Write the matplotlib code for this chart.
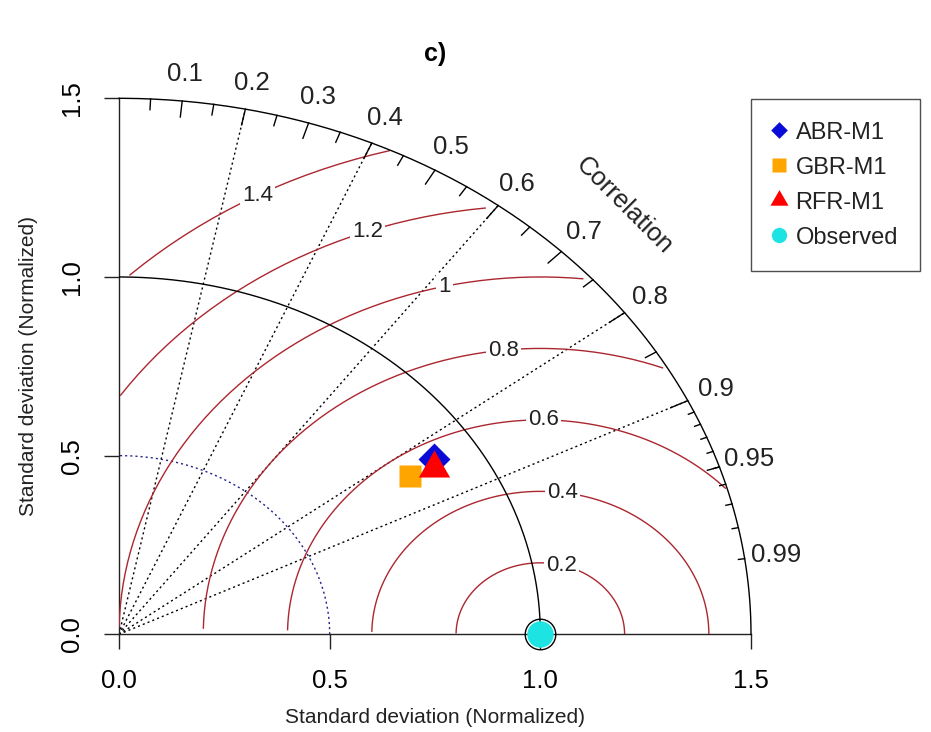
import numpy as np
import matplotlib
matplotlib.use("Agg")
import matplotlib.pyplot as plt
from matplotlib.lines import Line2D
from matplotlib.markers import MarkerStyle

plt.rcParams['font.family'] = ['Liberation Sans', 'DejaVu Sans']

# ---- data -------------------------------------------------------------
models = ["ABR-M1", "GBR-M1", "RFR-M1"]
model_sd = [0.894, 0.820, 0.880]
model_cor = [0.836, 0.841, 0.849]
model_colors = ["#0b0bd8", "#ffa500", "#ff0000"]

ref_sd = 1.0
ref_label = "Observed"
ref_color = "#1ee3e3"

maxray = 1.5
sd_ticks = [0.0, 0.5, 1.0, 1.5]
sd_ticklabels = ["0.0", "0.5", "1.0", "1.5"]
gamma_levels = [0.2, 0.4, 0.6, 0.8, 1.0, 1.2, 1.4]
gamma_labels = ["0.2", "0.4", "0.6", "0.8", "1", "1.2", "1.4"]
corr_lines = [0.2, 0.4, 0.6, 0.8, 0.9]
corr_labels = [0.1, 0.2, 0.3, 0.4, 0.5, 0.6, 0.7, 0.8, 0.9, 0.95, 0.99]
sd_dotted_arc = 0.5

# ---- markers in the style of R's pch symbols (centred on the value) ----
tri_verts = [(0.0, 1.555), (1.347, -0.778), (-1.347, -0.778), (0.0, 1.555)]
diamond = MarkerStyle([(0, 1), (1, 0), (0, -1), (-1, 0), (0, 1)])
square = MarkerStyle([(-1, -1), (1, -1), (1, 1), (-1, 1), (-1, -1)])
triangle = MarkerStyle(tri_verts)
model_markers = [diamond, square, triangle]
model_msize = [23, 16, 26]

fig = plt.figure(figsize=(9.31, 7.32), dpi=100)
W, H = 931.0, 732.0
x0, x1, y0, y1 = 119.0, 751.0, 634.3, 98.3
ax = fig.add_axes([x0 / W, 1 - y0 / H, (x1 - x0) / W, (y0 - y1) / H])
ax.set_xlim(0, maxray)
ax.set_ylim(0, maxray)
for s in ["top", "right"]:
    ax.spines[s].set_visible(False)
for s in ["left", "bottom"]:
    ax.spines[s].set_linewidth(1.0)
    ax.spines[s].set_color("#222222")

ax.set_xticks(sd_ticks)
ax.set_xticklabels(sd_ticklabels)
ax.set_yticks(sd_ticks)
ax.set_yticklabels(sd_ticklabels, rotation=90, va="center")
ax.tick_params(axis="both", direction="out", length=11, width=1.0,
               labelsize=18.5, color="#222222")
ax.tick_params(axis="x", pad=14)
ax.tick_params(axis="y", pad=14)

ax.set_xlabel("Standard deviation (Normalized)", fontsize=15, color="#222222",
              labelpad=11)
ax.set_ylabel("Standard deviation (Normalized)", fontsize=15, color="#222222",
              labelpad=16)
ax.set_title("c)", fontsize=18, fontweight="bold", pad=27)

dot = (0, (1.5, 2.2))

# radial correlation lines
for c in corr_lines:
    ax.plot([0, maxray * c], [0, maxray * np.sqrt(1 - c * c)], color="black",
            lw=1.0, ls=dot, zorder=2)

# dotted standard-deviation arc
th = np.linspace(0, np.pi / 2, 200)
ax.plot(sd_dotted_arc * np.cos(th), sd_dotted_arc * np.sin(th),
        color="#23238a", lw=1.0, ls=dot, zorder=2)

# centred RMS difference contours
ang = np.arange(0, np.pi, 0.03)
labelpos = np.linspace(45, 70, len(gamma_levels)).astype(int) - 1
for g, lab, lp in zip(gamma_levels, gamma_labels, labelpos):
    xc = np.cos(ang) * g + ref_sd
    yc = np.sin(ang) * g
    neg = np.where(xc < 0)[0]
    end = neg.min() if len(neg) else len(ang)
    out = np.where(xc * xc + yc * yc > maxray * maxray)[0]
    start = out.max() + 1 if len(out) else 0
    ax.plot(xc[start:end], yc[start:end], color="#ab2730", lw=1.0, zorder=3)
    if xc[lp] > 0:
        ax.text(xc[lp], yc[lp], lab, fontsize=16, ha="center", va="center",
                color="#222222", zorder=4,
                bbox=dict(facecolor="white", edgecolor="none", pad=1.5))

# outer and reference arcs
ax.plot(maxray * np.cos(th), maxray * np.sin(th), color="black", lw=1.0,
        zorder=3, clip_on=False)
ax.plot(ref_sd * np.cos(th), ref_sd * np.sin(th), color="black", lw=1.0,
        zorder=3)

# correlation tick marks
big = np.arccos(np.arange(0.1, 0.95, 0.1))
med = np.arccos(np.arange(0.05, 0.96, 0.1))
sml = np.arccos(np.arange(0.91, 0.995, 0.01))
for angs, f in [(big, 0.97), (med, 0.98), (sml, 0.99)]:
    for a in angs:
        ax.plot([np.cos(a) * maxray, np.cos(a) * f * maxray],
                [np.sin(a) * maxray, np.sin(a) * f * maxray],
                color="black", lw=1.0, zorder=3, clip_on=False)

# correlation labels
for c in corr_labels:
    a = np.arccos(c)
    ax.text(np.cos(a) * 1.05 * maxray, np.sin(a) * 1.05 * maxray,
            f"{c:g}", fontsize=18.5, ha="center", va="center",
            color="#222222", clip_on=False)
ax.text(maxray * 0.8, maxray * 0.8, "Correlation", rotation=-45,
        fontsize=18.5, ha="center", va="center", color="#222222",
        rotation_mode="anchor")

# reference point
ax.plot(ref_sd, 0, "o", ms=22, mfc="none", mec="black", mew=1.0,
        zorder=6, clip_on=False)
ax.plot(ref_sd, 0, "o", ms=19, mfc=ref_color, mec="none", zorder=7,
        clip_on=False)

# model points
for sd, cr, mk, ms, col in zip(model_sd, model_cor, model_markers,
                               model_msize, model_colors):
    ax.plot(sd * cr, sd * np.sqrt(1 - cr * cr), ls="none", marker=mk, ms=ms,
            mfc=col, mec="none", zorder=8)

# legend
handles = []
leg_ms = [12, 10, 15]
for name, mk, ms, col in zip(models, model_markers, leg_ms, model_colors):
    handles.append(Line2D([], [], ls="none", marker=mk, ms=ms, mfc=col,
                          mec="none", label=name))
handles.append(Line2D([], [], ls="none", marker="o", ms=11, mfc=ref_color,
                      mec="none", label=ref_label))
leg = ax.legend(handles=handles, loc="upper left",
                bbox_to_anchor=(750.7 / W, 1 - 99.3 / H),
                bbox_transform=fig.transFigure, borderaxespad=0,
                frameon=True, fancybox=False, edgecolor="#222222",
                fontsize=17, handlelength=0.5, handletextpad=0.45,
                labelspacing=0.55, borderpad=0.95)
leg.get_frame().set_linewidth(1.0)
for t in leg.get_texts():
    t.set_color("#222222")

fig.savefig("out.png", dpi=100, facecolor="white")
